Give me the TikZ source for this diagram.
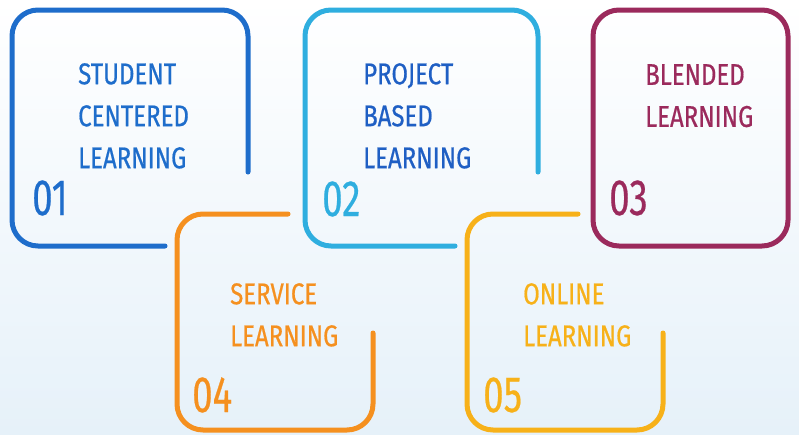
\documentclass[tikz,border=0pt]{standalone}
\usepackage{fontspec}
\setmainfont{Fira Sans}[FakeStretch=0.8, FakeBold=0.6]
\newfontfamily\chiffres{Fira Sans}[FakeStretch=0.72, FakeBold=0.4]
\usepackage{tikz}
\usetikzlibrary{positioning}
\usepackage{xcolor}
\definecolor{bleu}{HTML}{1E6DCB}
\definecolor{cyan2}{HTML}{2FAEDF}
\definecolor{bleutxt}{HTML}{1F5FC4}
\definecolor{prune}{HTML}{9B2A5C}
\definecolor{orange2}{HTML}{F5901F}
\definecolor{jaune}{HTML}{F7B119}
\definecolor{fond}{HTML}{E6F1F9}
\tikzstyle{cadre}=[line width=5pt, rounded corners=26pt, line cap=round]
\tikzstyle{titre}=[anchor=north west, inner sep=0pt, align=left, font=\fontsize{30}{42}\selectfont]
\tikzstyle{numero}=[anchor=base west, inner sep=0pt, font=\chiffres\fontsize{51}{51}\selectfont]

\begin{document}
\begin{tikzpicture}[x=1pt,y=-1pt]

\shade[top color=white, bottom color=fond] (0,0) rectangle (799,434);
\useasboundingbox (0,0) rectangle (799,434);

% 01
\draw[cadre, bleu] (248,172) -- (248,10) -- (12,10) -- (12,246) -- (165,246);
\node[titre, text=bleu] (t1) at (78,63) {STUDENT\\CENTERED\\LEARNING};
\node[numero, text=bleu] (n1) at (32,215) {01};

% 02
\draw[cadre, cyan2] (538,172) -- (538,10) -- (305,10) -- (305,246) -- (455,246);
\node[titre, text=bleutxt] (t2) at (363,63) {PROJECT\\BASED\\LEARNING};
\node[numero, text=cyan2] (n2) at (322,216) {02};

% 03
\draw[cadre, prune] (690,10) -- (788,10) -- (788,246) -- (593,246) -- (593,10) -- (690,10);
\node[titre, text=prune] (t3) at (645,64) {BLENDED\\LEARNING};
\node[numero, text=prune] (n3) at (609,215) {03};

% 04
\draw[cadre, orange2] (288,214) -- (177,214) -- (177,430) -- (373,430) -- (373,333);
\node[titre, text=orange2] (t4) at (230,283) {SERVICE\\LEARNING};
\node[numero, text=orange2] (n4) at (192,412) {04};

% 05
\draw[cadre, jaune] (578,214) -- (467,214) -- (467,430) -- (663,430) -- (663,333);
\node[titre, text=jaune] (t5) at (523,283) {ONLINE\\LEARNING};
\node[numero, text=jaune] (n5) at (483,412) {05};

\end{tikzpicture}
\end{document}
